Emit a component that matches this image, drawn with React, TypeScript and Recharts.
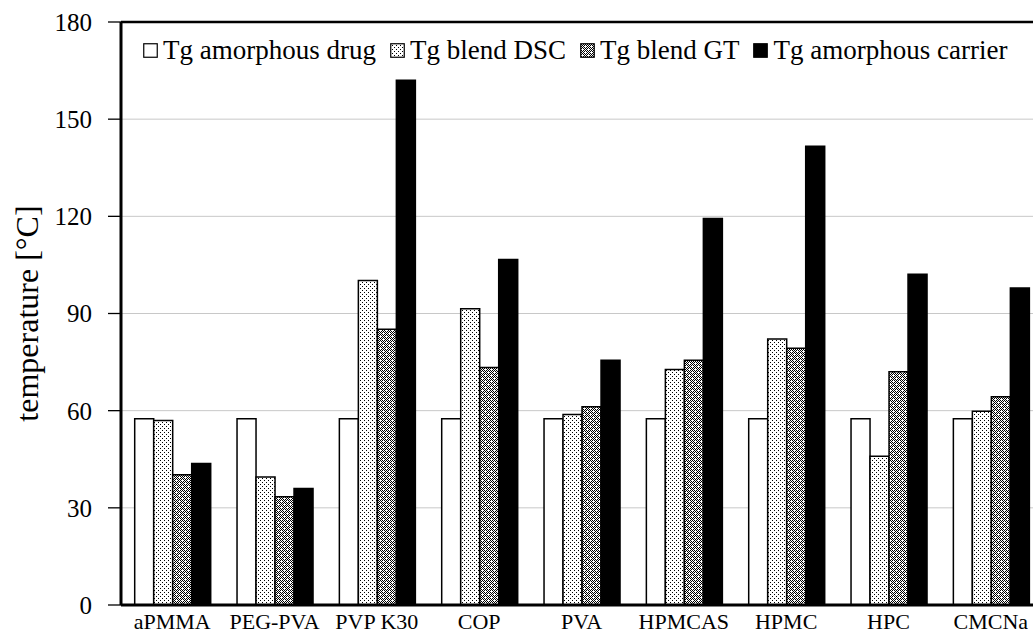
import React from 'react';
import { BarChart, Bar, XAxis, YAxis, CartesianGrid, Legend, ReferenceLine } from 'recharts';

const categories = ['aPMMA', 'PEG-PVA', 'PVP K30', 'COP', 'PVA', 'HPMCAS', 'HPMC', 'HPC', 'CMCNa'];
const tgDrug = [57.5, 57.5, 57.5, 57.5, 57.5, 57.5, 57.5, 57.5, 57.5];
const tgBlendDSC = [57.0, 39.5, 100.2, 91.5, 58.8, 72.7, 82.1, 45.9, 59.8];
const tgBlendGT = [40.2, 33.4, 85.1, 73.3, 61.2, 75.6, 79.3, 72.0, 64.3];
const tgCarrier = [43.7, 36.0, 162.0, 106.7, 75.6, 119.3, 141.6, 102.1, 97.9];
const yTicks = [0, 30, 60, 90, 120, 150, 180];

const seriesNames = ['Tg amorphous drug', 'Tg blend DSC', 'Tg blend GT', 'Tg amorphous carrier'];

const data = categories.map((c, i) => ({
  name: c,
  drug: tgDrug[i],
  dsc: tgBlendDSC[i],
  gt: tgBlendGT[i],
  carrier: tgCarrier[i],
}));

const FONT = '"Liberation Serif", "Times New Roman", serif';

const checker: React.ReactElement[] = [];
for (let yy = 0; yy < 6; yy++) {
  for (let xx = 0; xx < 6; xx++) {
    if ((xx + yy) % 2 === 0) checker.push(<rect key={`c${xx}-${yy}`} x={xx} y={yy} width={1} height={1} fill="#000" />);
  }
}

const fills = ['#ffffff', 'url(#patDSC)', 'url(#patGT)', '#000000'];

const LegendContent = (props: any) => {
  const payload = [...(props.payload || [])].sort(
    (a: any, b: any) => seriesNames.indexOf(a.value) - seriesNames.indexOf(b.value)
  );
  return (
    <div style={{ display: 'flex', alignItems: 'center', fontFamily: FONT, fontSize: 27, color: '#000', whiteSpace: 'nowrap', lineHeight: 1 }}>
      {payload.map((p: any, i: number) => {
        const idx = seriesNames.indexOf(p.value);
        return (
          <div key={i} style={{ display: 'flex', alignItems: 'center', marginRight: 14 }}>
            <svg width={15} height={15} style={{ marginRight: 5 }}>
              <rect x={0.75} y={0.75} width={13.5} height={13.5} fill={fills[idx]} stroke="#000" strokeWidth={1.2} />
            </svg>
            <span>{p.value}</span>
          </div>
        );
      })}
    </div>
  );
};

export default function App() {
  return (
    <div style={{ position: 'fixed', left: 0, top: 0, width: 1033, height: 634, overflow: 'hidden', background: '#fff' }}>
      <BarChart
        width={1060}
        height={634}
        data={data}
        margin={{ top: 22, right: 18, bottom: 0, left: 0 }}
        barCategoryGap={13.7}
        barGap={0}
      >
        <defs>
          <pattern id="patDSC" width={4} height={4} patternUnits="userSpaceOnUse">
            <rect x={0} y={0} width={4} height={4} fill="#fff" />
            <rect x={0} y={0} width={1} height={1} fill="#000" />
            <rect x={2} y={2} width={1} height={1} fill="#000" />
          </pattern>
          <pattern id="patGT" width={6} height={6} patternUnits="userSpaceOnUse">
            <rect x={0} y={0} width={6} height={6} fill="#fff" />
            {checker}
            <rect x={2} y={0} width={1} height={2} fill="#fff" />
            <rect x={5} y={3} width={1} height={2} fill="#fff" />
          </pattern>
        </defs>
        <CartesianGrid vertical={false} stroke="#c8c8c8" strokeWidth={1} />
        <XAxis
          dataKey="name"
          height={29}
          axisLine={{ stroke: '#000', strokeWidth: 3 }}
          tickLine={false}
          tickSize={0}
          tickMargin={8}
          interval={0}
          tick={{ fontFamily: FONT, fontSize: 22, fill: '#000' }}
        />
        <YAxis
          width={121}
          domain={[0, 180]}
          ticks={yTicks}
          interval={0}
          axisLine={{ stroke: '#000', strokeWidth: 3 }}
          tickLine={{ stroke: '#000', strokeWidth: 1.3 }}
          tickSize={13}
          tickMargin={16}
          tick={{ fontFamily: FONT, fontSize: 25, fill: '#000' }}
          label={{ value: 'temperature [°C]', angle: -90, position: 'center', dx: -34, fontFamily: FONT, fontSize: 32, fill: '#000' }}
        />
        <ReferenceLine y={180} stroke="#000" strokeWidth={2.5} ifOverflow="extendDomain" />
        <Legend
          layout="horizontal"
          verticalAlign="middle"
          align="center"
          content={<LegendContent />}
          wrapperStyle={{ top: 37, left: 143, width: 'auto', height: 'auto' }}
        />
        <Bar dataKey="drug" name={seriesNames[0]} fill={fills[0]} stroke="#000" strokeWidth={1.5} isAnimationActive={false} />
        <Bar dataKey="dsc" name={seriesNames[1]} fill={fills[1]} stroke="#000" strokeWidth={1.5} isAnimationActive={false} />
        <Bar dataKey="gt" name={seriesNames[2]} fill={fills[2]} stroke="#000" strokeWidth={1.5} isAnimationActive={false} />
        <Bar dataKey="carrier" name={seriesNames[3]} fill={fills[3]} stroke="#000" strokeWidth={1.5} isAnimationActive={false} />
      </BarChart>
    </div>
  );
}
